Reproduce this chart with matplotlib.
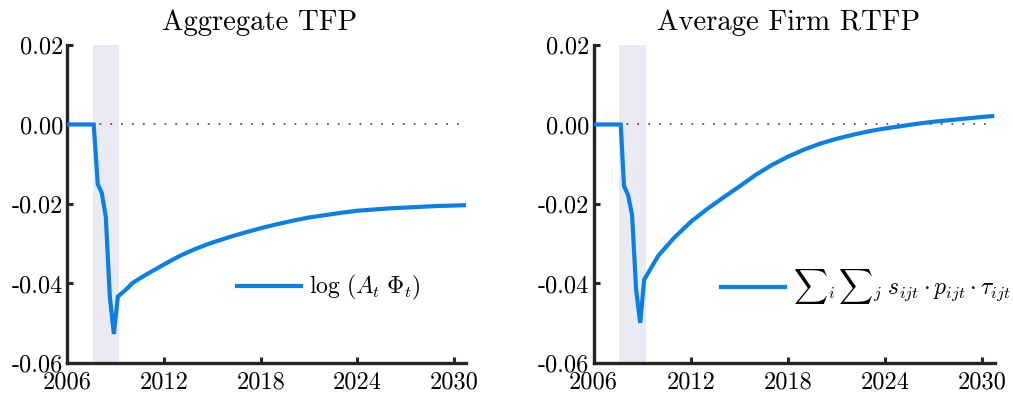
import matplotlib
matplotlib.use("Agg")
import matplotlib.pyplot as plt

plt.rcParams['font.family'] = 'serif'
plt.rcParams['font.serif'] = ['cmr10']
plt.rcParams['mathtext.fontset'] = 'cm'
plt.rcParams['axes.unicode_minus'] = False

# --- data: model response, quarterly around the crisis then yearly ---
years_tfp = [2006.0, 2007.63, 2007.88, 2008.13, 2008.38, 2008.63, 2008.88, 2009.13,
             2009.75, 2010, 2010.5, 2011, 2012, 2013, 2014, 2015, 2016, 2017, 2018,
             2019, 2020, 2021, 2022, 2023, 2024, 2025, 2026, 2027, 2028, 2029, 2030,
             2030.7]
agg_tfp = [0.0, 0.0, -0.0150, -0.0172, -0.0232, -0.0433, -0.0527, -0.0433,
           -0.0411, -0.0400, -0.0387, -0.0375, -0.0352, -0.0330, -0.0312, -0.0297,
           -0.0284, -0.0272, -0.0261, -0.0251, -0.0242, -0.0234, -0.0228, -0.0222,
           -0.0217, -0.0214, -0.0211, -0.0209, -0.0207, -0.0205, -0.0204, -0.0203]

years_rtfp = [2006.0, 2007.68, 2007.88, 2008.13, 2008.38, 2008.63, 2008.88, 2009.13,
              2010, 2011, 2012, 2013, 2014, 2015, 2016, 2017, 2018, 2019, 2020,
              2021, 2022, 2023, 2024, 2025, 2026, 2027, 2028, 2029, 2030, 2030.6]
avg_rtfp = [0.0, 0.0, -0.0155, -0.0177, -0.0228, -0.0416, -0.0499, -0.0390,
            -0.0330, -0.0284, -0.0245, -0.0213, -0.0184, -0.0156, -0.0127, -0.0102,
            -0.0081, -0.0063, -0.0048, -0.0036, -0.0026, -0.0017, -0.0010, -0.0004,
            0.0002, 0.0007, 0.0011, 0.0015, 0.0019, 0.0021]

recession = (2007.6, 2009.22)
xticks = [2006, 2012, 2018, 2024, 2030]
yticks = [-0.06, -0.04, -0.02, 0.00, 0.02]

titles = ['Aggregate TFP', 'Average Firm RTFP']
labels = [r'$\log\,(A_t\;\Phi_t)$',
          r'${\sum}_i\,{\sum}_j\;s_{ijt}\cdot p_{ijt}\cdot \tau_{ijt}$']

BLUE = '#0A80E6'
DARK = '#262626'

fig = plt.figure(figsize=(10.13, 3.94), dpi=100)
ax1 = fig.add_axes([0.0666, 0.0787, 0.3934, 0.8071])
ax2 = fig.add_axes([0.5859, 0.0787, 0.3959, 0.8071])

panels = [
    (ax1, years_tfp, agg_tfp, titles[0], labels[0], (0.425, 0.236), 0.482, 17),
    (ax2, years_rtfp, avg_rtfp, titles[1], labels[1], (0.318, 0.239), 0.486, 17),
]

for ax, x, y, title, lab, anchor, tx, lfs in panels:
    ax.axvspan(*recession, color='#EAEAF2', lw=0, zorder=0)
    ax.axhline(0, color='#555555', lw=1.3, ls=(0, (1, 5)), zorder=1)
    ax.plot(x, y, color=BLUE, lw=3, solid_joinstyle='miter', label=lab, zorder=3)

    ax.set_xlim(2006, 2030.75)
    ax.set_ylim(-0.06, 0.02)
    ax.set_xticks(xticks)
    ax.set_yticks(yticks)
    ax.set_yticklabels([f'{v:.2f}' for v in yticks])

    for s in ['top', 'right']:
        ax.spines[s].set_visible(False)
    for s in ['left', 'bottom']:
        ax.spines[s].set_linewidth(2.4)
        ax.spines[s].set_color(DARK)
    ax.tick_params(direction='in', length=4, width=2.2, color=DARK,
                   labelsize=17.5, pad=3)
    ax.tick_params(axis='x', pad=6)

    ax.set_title(title, fontsize=20.7, x=tx, pad=11)
    ax.legend(loc='center left', bbox_to_anchor=anchor, frameon=False,
              fontsize=lfs, handlelength=2.7, handletextpad=0.35,
              borderpad=0, borderaxespad=0)

fig.savefig('out.png', dpi=100)
